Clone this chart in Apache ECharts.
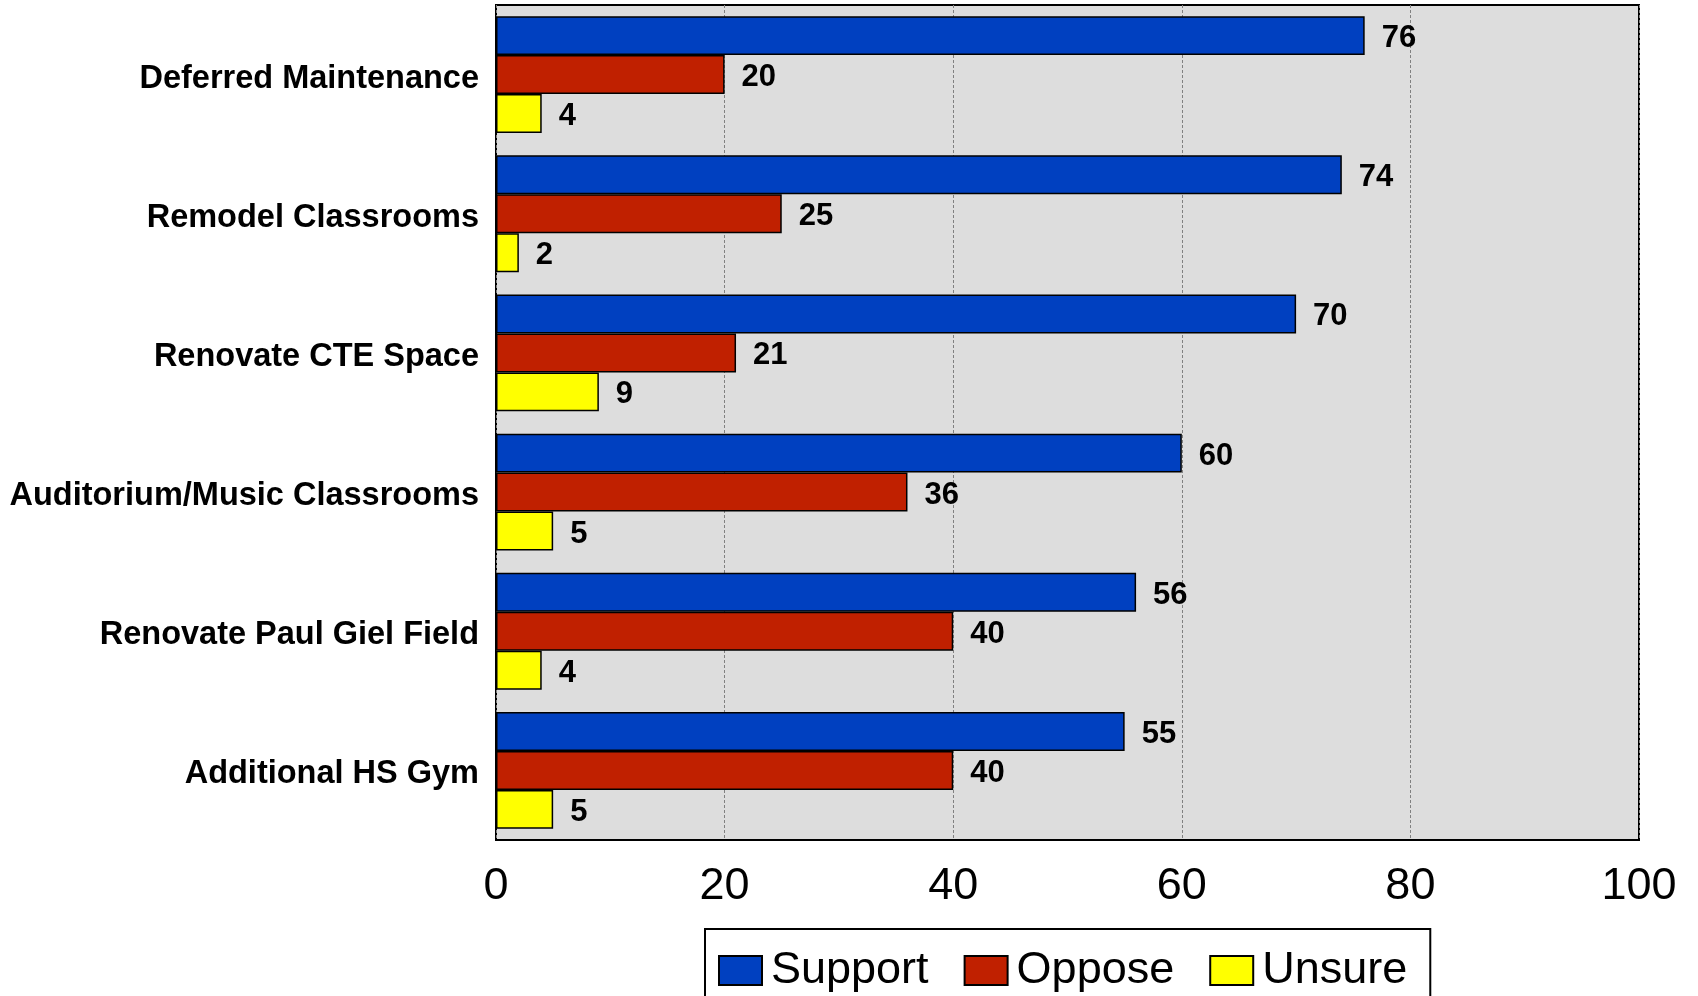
<!DOCTYPE html>
<html>
<head>
<meta charset="utf-8">
<script src="https://cdn.jsdelivr.net/npm/echarts@6/dist/echarts.min.js"></script>
<style>html,body{margin:0;padding:0;background:#fff;}#c{width:1698px;height:996px;}</style>
</head>
<body>
<div id="c"></div>
<script>
const categories = ["Deferred Maintenance", "Remodel Classrooms", "Renovate CTE Space", "Auditorium/Music Classrooms", "Renovate Paul Giel Field", "Additional HS Gym"];
const support = [76, 74, 70, 60, 56, 55];
const oppose = [20, 25, 21, 36, 40, 40];
const unsure = [4, 2, 9, 5, 4, 5];
const xTicks = [0, 20, 40, 60, 80, 100];

const font = '"Liberation Sans", Arial, sans-serif';
const chart = echarts.init(document.getElementById('c'), null, {renderer: 'canvas'});
function mk(name, data, color) {
  return {
    name: name, type: 'bar', data: data,
    barGap: '0%', barCategoryGap: '16%',
    itemStyle: {color: color, borderColor: '#000', borderWidth: 1.5},
    label: {show: true, position: 'right', distance: 17, offset: [0, 3], color: '#000', fontFamily: font, fontWeight: 'bold', fontSize: 31},
    emphasis: {disabled: true}
  };
}
chart.setOption({
  animation: false,
  backgroundColor: '#fff',
  grid: {left: 496, top: 5, right: 59, bottom: 156, show: true, backgroundColor: '#DDDDDD', borderColor: '#000', borderWidth: 2},
  xAxis: {
    type: 'value', min: xTicks[0], max: xTicks[xTicks.length - 1], interval: 20,
    axisLine: {show: false}, axisTick: {show: false},
    splitLine: {show: true, lineStyle: {color: '#808080', type: [3, 2], width: 1}},
    axisLabel: {color: '#000', fontFamily: font, fontSize: 45, margin: 24}
  },
  yAxis: {
    type: 'category', data: categories, inverse: true,
    axisLine: {show: false}, axisTick: {show: false},
    axisLabel: {color: '#000', fontFamily: font, fontWeight: 'bold', fontSize: 32.5, margin: 17, verticalAlign: 'top', lineHeight: 8}
  },
  legend: {
    left: 705, top: 929,
    padding: [19, 23, 40, 13],
    itemGap: 35, itemWidth: 43, itemHeight: 29,
    borderColor: '#000', borderWidth: 2,
    icon: 'rect',
    textStyle: {color: '#000', fontFamily: font, fontSize: 45, padding: [0, 0, 0, 4]},
    data: ['Support', 'Oppose', 'Unsure']
  },
  series: [mk('Support', support, '#0040C0'), mk('Oppose', oppose, '#C02000'), mk('Unsure', unsure, '#FFFF00')]
});
</script>
</body>
</html>
